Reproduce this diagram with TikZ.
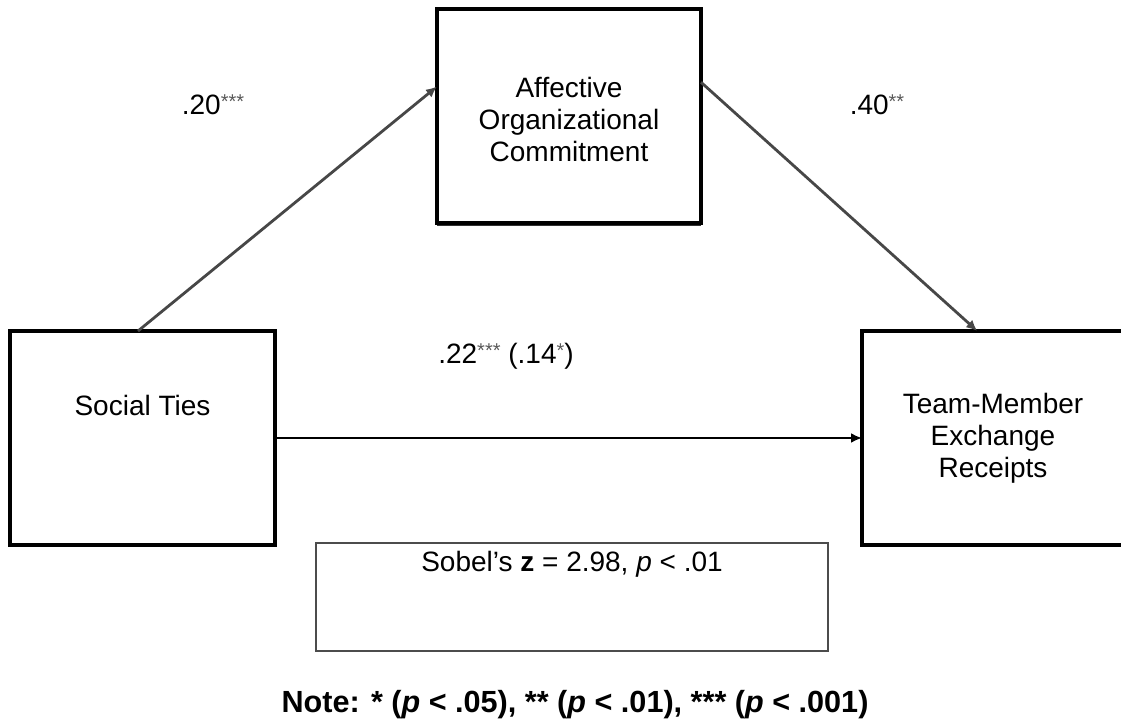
\documentclass[tikz,border=0pt]{standalone}
\usepackage{fontspec}
\setmainfont{Liberation Sans}
\usetikzlibrary{arrows.meta,positioning,calc,shadows}

\newcommand{\sigstars}[1]{\raisebox{3pt}{\textcolor{black!65}{\fontsize{10}{10}\selectfont #1}}}

\tikzset{
  varbox/.style={draw, fill=white, line width=2pt, minimum width=132pt, minimum height=107pt,
    outer sep=0pt, inner sep=0pt, align=center, font=\fontsize{14}{16}\selectfont,
    drop shadow={shadow xshift=0pt, shadow yshift=-1.2pt, opacity=1, fill=black!80}},
  sobelbox/.style={draw=black!70, line width=0.8pt, minimum width=256pt, minimum height=54pt,
    outer sep=0pt, inner sep=0pt},
  patharrow/.style={draw=black!72, line width=1.4pt, -{Latex[length=5.5pt,width=5pt]}},
  coef/.style={font=\fontsize{14}{16}\selectfont, inner sep=0pt},
}

\begin{document}
\begin{tikzpicture}[x=0.5pt,y=-0.5pt]
\useasboundingbox (0,0) rectangle (1121,721);
\clip (0,0) rectangle (1121,721);

% Variable boxes
\node[varbox, minimum width=132.5pt] (st) at (142.5,438) {};
\node[coef] (stlabel) at (142.5,405) {Social Ties};
\node[varbox] (aoc) at (569,116.5) {};
\node[coef, align=center] (aoclabel) at (569,119) {Affective\\Organizational\\Commitment};
\node[varbox, minimum width=131pt] (tmx) at (993,438) {Team-Member\\Exchange\\Receipts};

% Sobel test box
\node[sobelbox] (sob) at (572,597) {};
\node[coef] (sobtext) at (572,564) {Sobel's \textbf{z} = 2.98, \textit{p} < .01};

% Paths
\draw[patharrow] ($(st.north west)!0.483!(st.north east)$) -- ($(aoc.north west)!0.36!(aoc.south west)$);
\draw[patharrow] ($(aoc.north east)!0.34!(aoc.south east)$) -- ($(tmx.north west)!0.44!(tmx.north east)$);
\draw[patharrow, draw=black] (st.east) -- (tmx.west);

% Coefficients
\node[coef] (ab) at (213,105) {.20\sigstars{***}};
\node[coef] (bb) at (877,105) {.40\sigstars{**}};
\node[coef] (cc) at (506,356) {.22\sigstars{***} (.14\sigstars{*})};

% Note
\node[font=\bfseries\fontsize{15.3}{17}\selectfont, inner sep=0pt] (note) at (575,705)
  {Note: * (\textit{p} < .05), ** (\textit{p} < .01), *** (\textit{p} < .001)};
\end{tikzpicture}
\end{document}
